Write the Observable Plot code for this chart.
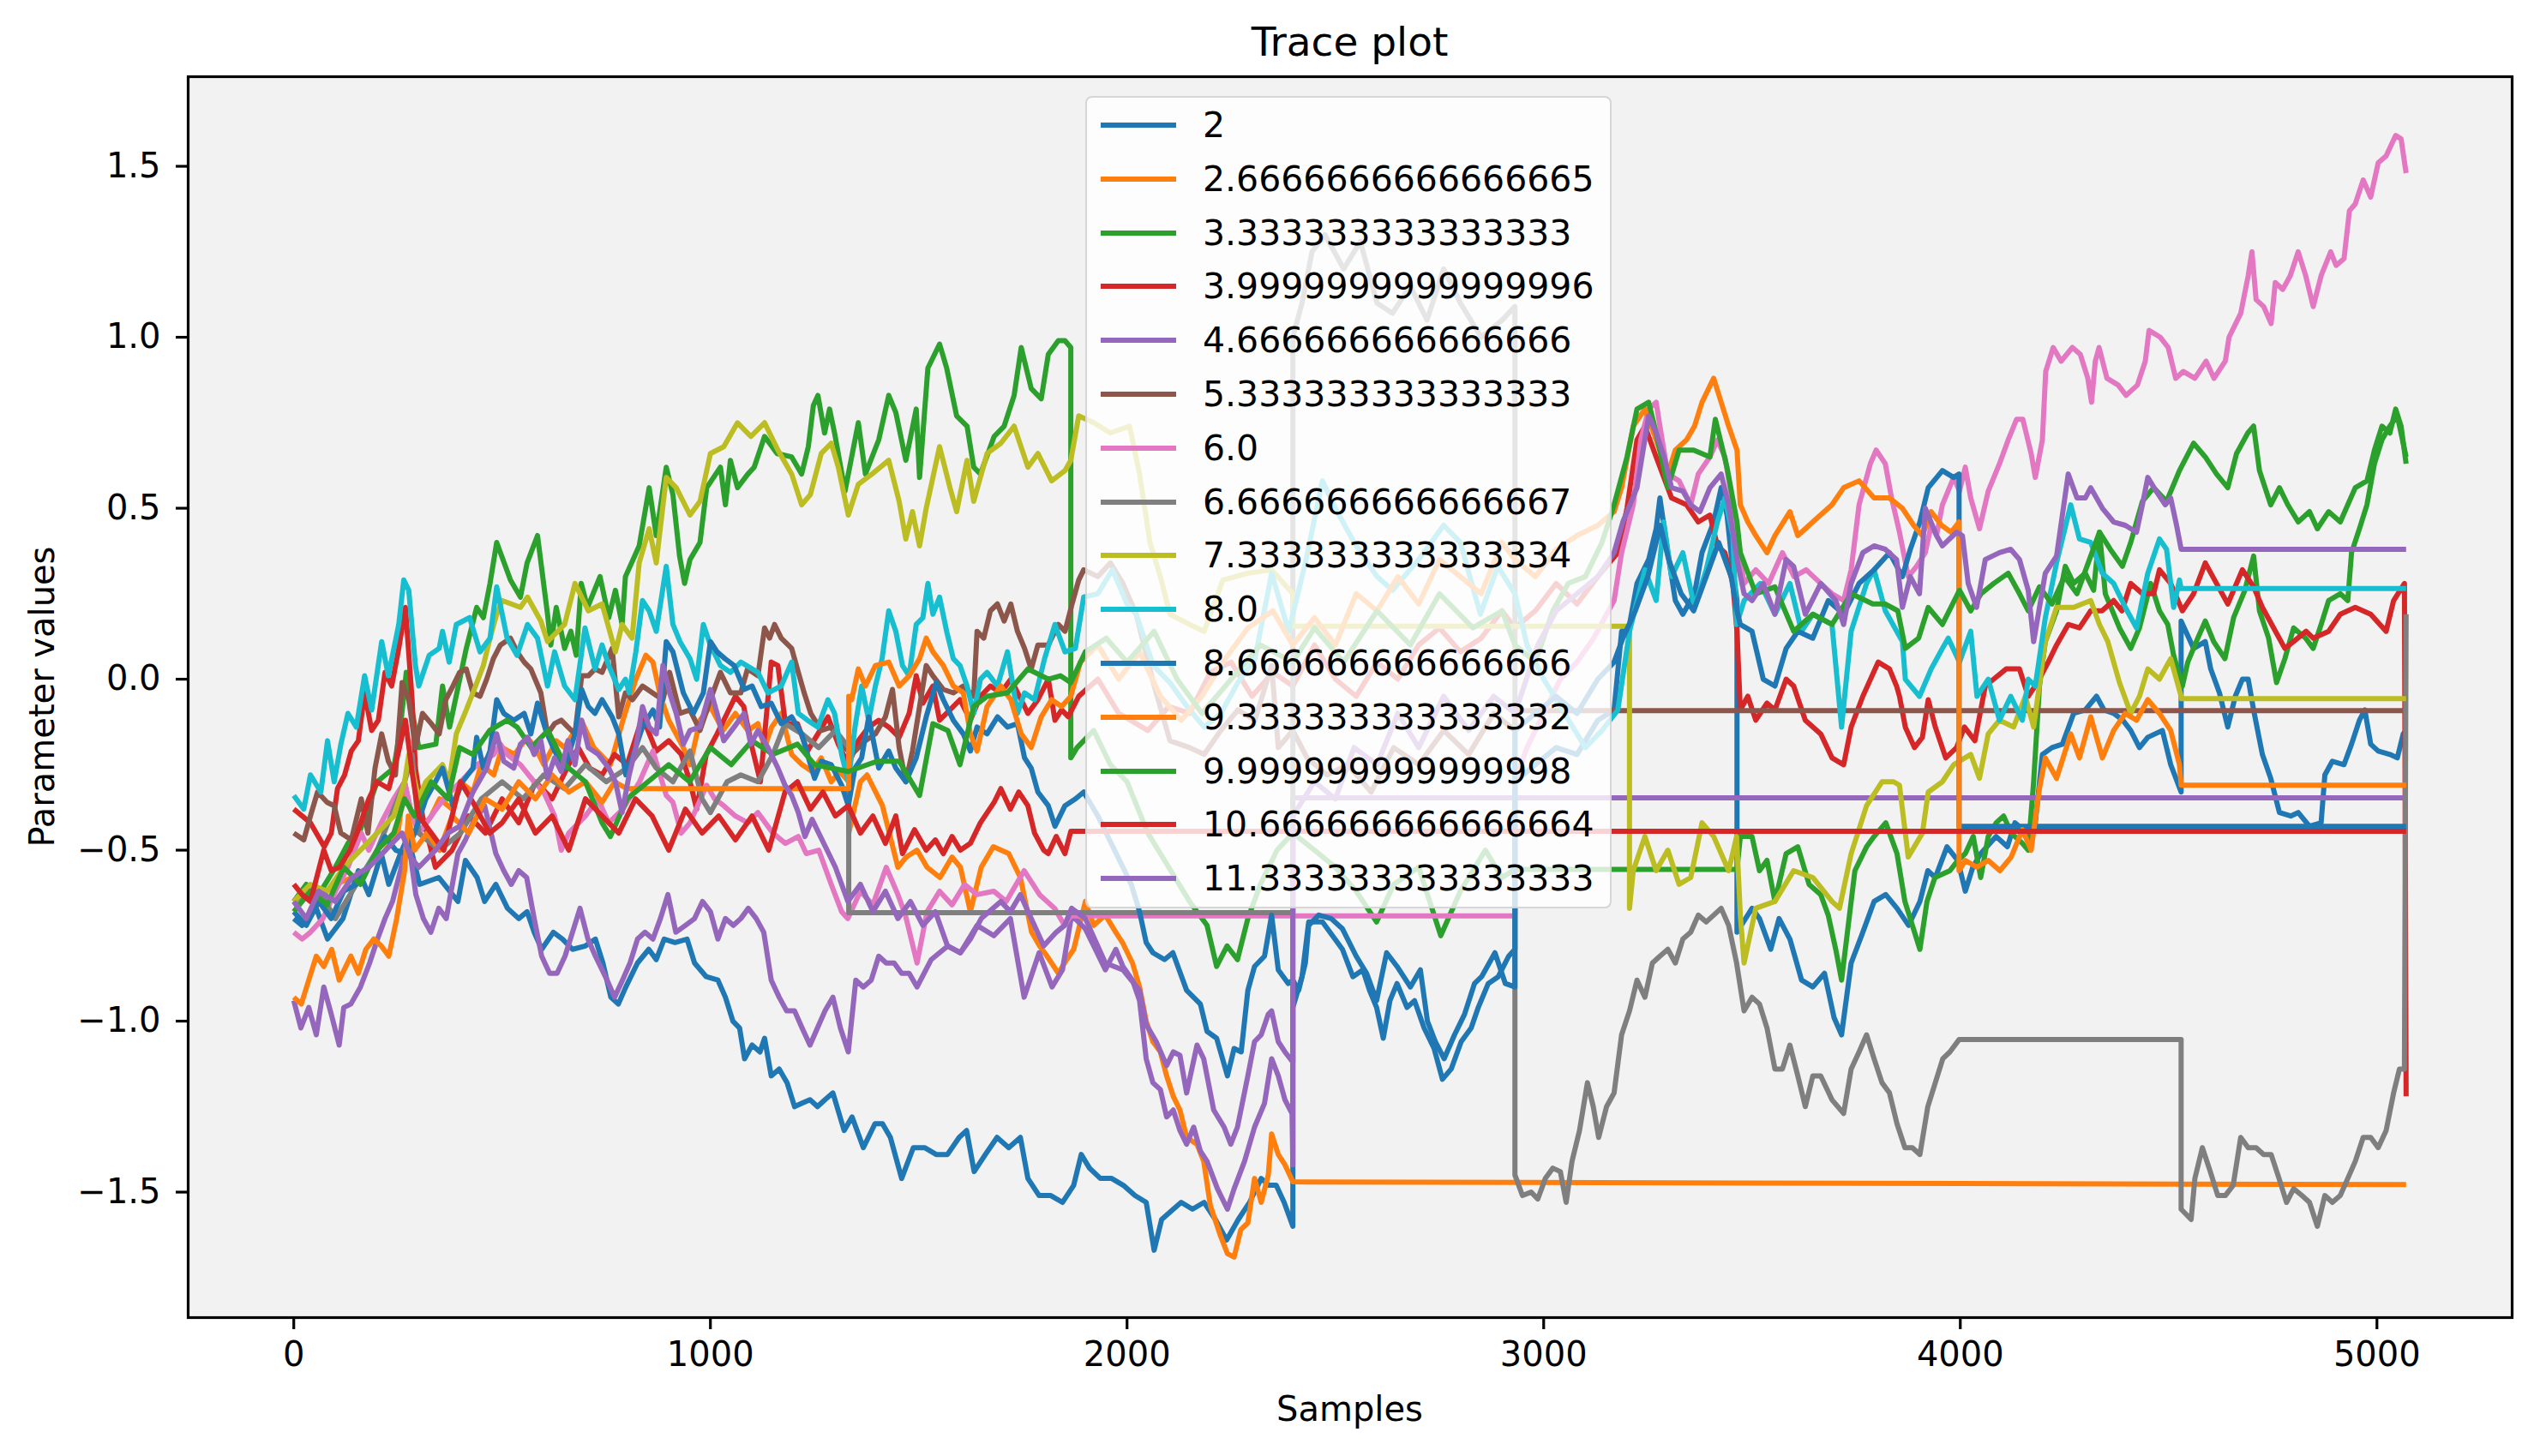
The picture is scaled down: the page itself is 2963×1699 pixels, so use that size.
<!DOCTYPE html>
<html><head><meta charset="utf-8">
<script src="https://cdn.jsdelivr.net/npm/d3@7"></script>
<script src="https://cdn.jsdelivr.net/npm/@observablehq/plot@0.6"></script>
<style>
html,body{margin:0;padding:0;background:#fff;}
#wrap{position:relative;width:2963px;height:1699px;font-family:"DejaVu Sans",sans-serif;color:#000;overflow:hidden;}
#title{position:relative;height:80px;}
#title span{position:absolute;left:219px;width:2711px;top:22px;line-height:54px;font-size:47px;text-align:center;}
#xlabel{position:absolute;left:219px;width:2711px;top:1620px;line-height:48px;font-size:40px;text-align:center;}
#ylabel{position:absolute;left:49px;top:813px;font-size:40px;line-height:48px;white-space:nowrap;transform:translate(-50%,-50%) rotate(-90deg);}
#legend{position:absolute;left:1266px;top:112px;width:614px;height:948px;background:rgba(255,255,255,0.8);border:2px solid rgba(204,204,204,0.8);border-radius:8px;box-sizing:border-box;}
#legend .row{position:absolute;left:0;width:600px;height:62px;line-height:62px;font-size:41px;white-space:nowrap;}
#legend .row svg{position:absolute;left:14px;top:0;}
#legend .row span{position:absolute;left:135px;top:0;}
</style>
</head><body>
<div id="wrap">
<div id="title"><span>Trace plot</span></div>
<div id="chart"></div>
<div id="xlabel">Samples</div>
<div id="ylabel">Parameter values</div>
<div id="legend"></div>
</div>
<script>
// ---- data: [sample, value] ----
const legendLabels = ["2","2.6666666666666665","3.333333333333333","3.9999999999999996","4.666666666666666","5.333333333333333","6.0","6.666666666666667","7.333333333333334","8.0","8.666666666666666","9.333333333333332","9.999999999999998","10.666666666666664","11.333333333333333"];
const xTicks = [0,1000,2000,3000,4000,5000];
const yTicks = [-1.5,-1.0,-0.5,0.0,0.5,1.0,1.5];

const chain01 = [[0,-0.70],[20,-0.72],[54,-0.67],[81,-0.76],[118,-0.70],[155,-0.56],[180,-0.63],[210,-0.51],[228,-0.6],[256,-0.51],[274,-0.46],[302,-0.6],[348,-0.58],[394,-0.65],[412,-0.53],[440,-0.58],[458,-0.65],[485,-0.6],[513,-0.67],[540,-0.70],[560,-0.68],[577,-0.74],[595,-0.79],[623,-0.74],[645,-0.76],[669,-0.79],[700,-0.78],[724,-0.76],[742,-0.83],[761,-0.93],[779,-0.95],[797,-0.9],[825,-0.83],[852,-0.79],[870,-0.82],[889,-0.76],[915,-0.77],[944,-0.76],[962,-0.83],[990,-0.87],[1018,-0.88],[1036,-0.93],[1054,-1.0],[1070,-1.02],[1082,-1.11],[1100,-1.07],[1119,-1.09],[1130,-1.05],[1146,-1.16],[1165,-1.14],[1184,-1.18],[1202,-1.25],[1220,-1.24],[1239,-1.23],[1257,-1.25],[1275,-1.23],[1294,-1.21],[1321,-1.32],[1340,-1.28],[1367,-1.37],[1395,-1.30],[1413,-1.30],[1432,-1.34],[1459,-1.46],[1487,-1.37],[1514,-1.37],[1542,-1.39],[1569,-1.39],[1597,-1.34],[1615,-1.32],[1633,-1.44],[1660,-1.39],[1688,-1.34],[1716,-1.37],[1744,-1.34],[1762,-1.46],[1789,-1.51],[1817,-1.51],[1845,-1.53],[1872,-1.48],[1890,-1.39],[1910,-1.43],[1936,-1.46],[1963,-1.46],[1991,-1.48],[2019,-1.51],[2046,-1.53],[2065,-1.67],[2083,-1.58],[2111,-1.55],[2130,-1.53],[2157,-1.55],[2185,-1.53],[2212,-1.58],[2239,-1.64],[2267,-1.58],[2294,-1.53],[2322,-1.46],[2340,-1.48],[2358,-1.48],[2377,-1.53],[2398,-1.6],[2398,-0.96],[2420,-0.87],[2436,-0.71],[2469,-0.71],[2493,-0.75],[2517,-0.79],[2542,-0.87],[2566,-0.85],[2582,-0.91],[2599,-0.96],[2615,-1.05],[2631,-0.94],[2648,-0.89],[2672,-0.96],[2690,-0.94],[2713,-1.02],[2737,-1.08],[2757,-1.17],[2778,-1.14],[2802,-1.06],[2826,-1.02],[2843,-0.96],[2867,-0.89],[2891,-0.87],[2916,-0.81],[2931,-0.79],[2931,-0.3],[2980,-0.25],[3030,-0.2],[3080,-0.22],[3130,-0.12],[3169,-0.09],[3187,0.14],[3206,0.16],[3224,0.28],[3252,0.35],[3270,0.44],[3279,0.53],[3298,0.37],[3316,0.23],[3334,0.19],[3362,0.25],[3380,0.37],[3408,0.46],[3426,0.56],[3440,0.48],[3454,0.32],[3464,0.23],[3464,-0.74],[3500,-0.67],[3518,-0.7],[3545,-0.79],[3565,-0.7],[3591,-0.76],[3619,-0.88],[3646,-0.9],[3674,-0.86],[3697,-0.99],[3715,-1.04],[3738,-0.83],[3766,-0.74],[3793,-0.65],[3821,-0.63],[3848,-0.67],[3876,-0.72],[3903,-0.65],[3922,-0.56],[3940,-0.58],[3968,-0.49],[3994,-0.53],[4012,-0.62],[4030,-0.55],[4049,-0.51],[4086,-0.46],[4113,-0.49],[4131,-0.42],[4160,-0.45],[4180,-0.42],[4197,-0.22],[4220,-0.2],[4245,-0.19],[4272,-0.1],[4300,-0.09],[4327,-0.05],[4345,-0.09],[4368,-0.1],[4390,-0.12],[4409,-0.15],[4430,-0.2],[4450,-0.17],[4485,-0.15],[4505,-0.25],[4530,-0.33],[4530,0.17],[4560,0.09],[4588,0.11],[4601,0.03],[4622,-0.04],[4642,-0.14],[4660,-0.05],[4677,0.0],[4691,0.0],[4704,-0.09],[4725,-0.22],[4745,-0.29],[4766,-0.39],[4793,-0.40],[4811,-0.39],[4838,-0.43],[4866,-0.42],[4875,-0.28],[4893,-0.24],[4921,-0.25],[4939,-0.19],[4958,-0.12],[4971,-0.09],[4985,-0.19],[5003,-0.21],[5031,-0.22],[5049,-0.23],[5063,-0.16],[5070,-0.15]];

const chain02 = [[0,-0.66],[30,-0.62],[60,-0.64],[100,-0.6],[140,-0.58],[180,-0.55],[220,-0.5],[250,-0.45],[266,-0.3],[280,-0.38],[300,-0.45],[330,-0.4],[350,-0.35],[380,-0.38],[400,-0.3],[430,-0.33],[450,-0.25],[480,-0.28],[500,-0.2],[530,-0.22],[560,-0.17],[580,-0.2],[600,-0.25],[630,-0.18],[650,-0.2],[690,-0.12],[720,-0.2],[760,-0.25],[790,-0.12],[821,0.0],[845,0.07],[862,0.05],[880,-0.05],[900,-0.12],[935,-0.2],[951,-0.25],[975,-0.12],[1000,-0.08],[1030,-0.15],[1060,-0.1],[1090,-0.15],[1114,-0.13],[1130,-0.2],[1147,-0.14],[1170,-0.1],[1195,-0.22],[1220,-0.25],[1244,-0.27],[1266,-0.23],[1290,-0.3],[1310,-0.27],[1332,-0.3],[1332,-0.45],[1360,-0.3],[1376,-0.28],[1413,-0.37],[1450,-0.55],[1470,-0.52],[1496,-0.5],[1520,-0.55],[1551,-0.58],[1580,-0.52],[1600,-0.55],[1624,-0.68],[1650,-0.55],[1679,-0.49],[1716,-0.51],[1744,-0.58],[1771,-0.74],[1790,-0.78],[1808,-0.81],[1835,-0.86],[1855,-0.82],[1872,-0.79],[1900,-0.65],[1920,-0.72],[1948,-0.69],[1973,-0.74],[1989,-0.77],[2013,-0.83],[2030,-0.9],[2046,-1.0],[2062,-1.06],[2080,-1.09],[2095,-1.16],[2111,-1.22],[2127,-1.26],[2143,-1.34],[2168,-1.36],[2184,-1.41],[2200,-1.54],[2225,-1.63],[2241,-1.68],[2257,-1.69],[2273,-1.61],[2290,-1.59],[2306,-1.46],[2322,-1.53],[2339,-1.45],[2347,-1.33],[2363,-1.39],[2379,-1.42],[2398,-1.47],[5070,-1.478]];

const chain03 = [[0,-0.65],[30,-0.6],[60,-0.63],[100,-0.55],[130,-0.48],[160,-0.44],[200,-0.3],[240,-0.26],[255,-0.15],[270,0.02],[285,-0.1],[300,-0.2],[341,-0.19],[357,-0.02],[374,-0.14],[414,0.09],[439,0.21],[455,0.18],[471,0.28],[487,0.40],[520,0.29],[544,0.24],[560,0.34],[585,0.42],[609,0.19],[617,0.1],[630,0.21],[650,0.09],[665,0.14],[678,0.07],[690,0.28],[705,0.21],[735,0.30],[756,0.18],[772,0.26],[788,0.16],[796,0.30],[829,0.39],[853,0.56],[870,0.42],[894,0.62],[910,0.54],[926,0.36],[938,0.28],[951,0.35],[975,0.40],[991,0.56],[1024,0.62],[1036,0.51],[1048,0.64],[1065,0.56],[1090,0.6],[1105,0.62],[1130,0.71],[1160,0.66],[1195,0.65],[1219,0.60],[1235,0.68],[1247,0.80],[1258,0.83],[1274,0.72],[1286,0.79],[1298,0.72],[1323,0.55],[1355,0.75],[1372,0.60],[1404,0.70],[1428,0.83],[1445,0.78],[1469,0.64],[1494,0.79],[1502,0.59],[1522,0.91],[1550,0.98],[1567,0.91],[1591,0.77],[1616,0.74],[1632,0.62],[1648,0.60],[1681,0.71],[1705,0.74],[1729,0.83],[1746,0.97],[1770,0.85],[1794,0.82],[1811,0.95],[1835,0.99],[1851,0.99],[1865,0.97],[1865,-0.23],[1880,-0.2],[1920,-0.15],[1960,-0.25],[2000,-0.3],[2050,-0.45],[2100,-0.55],[2150,-0.65],[2192,-0.72],[2215,-0.84],[2240,-0.78],[2265,-0.82],[2290,-0.7],[2320,-0.6],[2360,-0.5],[2398,-0.45],[2450,-0.5],[2500,-0.55],[2550,-0.62],[2599,-0.71],[2640,-0.6],[2700,-0.55],[2753,-0.75],[2800,-0.62],[2860,-0.5],[2900,-0.58],[2931,-0.556],[3464,-0.556],[3472,-0.46],[3500,-0.46],[3518,-0.56],[3536,-0.53],[3555,-0.65],[3582,-0.51],[3610,-0.49],[3637,-0.6],[3665,-0.63],[3683,-0.69],[3701,-0.79],[3715,-0.88],[3729,-0.74],[3747,-0.56],[3775,-0.49],[3793,-0.46],[3821,-0.42],[3848,-0.51],[3867,-0.65],[3885,-0.72],[3903,-0.79],[3920,-0.65],[3939,-0.58],[3975,-0.56],[3994,-0.53],[4012,-0.51],[4031,-0.46],[4049,-0.58],[4067,-0.46],[4086,-0.42],[4104,-0.4],[4122,-0.45],[4149,-0.48],[4163,-0.5],[4176,-0.3],[4190,-0.02],[4204,0.11],[4231,0.2],[4252,0.33],[4272,0.28],[4300,0.31],[4320,0.26],[4334,0.43],[4348,0.25],[4382,0.15],[4409,0.09],[4430,0.15],[4457,0.28],[4478,0.2],[4498,0.16],[4512,0.07],[4533,-0.02],[4546,0.05],[4570,0.12],[4588,0.17],[4608,0.11],[4635,0.06],[4656,0.18],[4683,0.26],[4704,0.36],[4718,0.2],[4740,0.12],[4759,-0.01],[4779,0.06],[4800,0.15],[4829,0.12],[4847,0.09],[4866,0.16],[4884,0.23],[4912,0.25],[4930,0.23],[4939,0.37],[4958,0.44],[4976,0.51],[4994,0.63],[5012,0.70],[5031,0.74],[5049,0.77],[5070,0.65]];

const chain04 = [[0,-0.38],[20,-0.4],[40,-0.42],[73,-0.49],[90,-0.45],[105,-0.32],[122,-0.28],[138,-0.21],[155,-0.18],[170,-0.04],[187,-0.15],[203,-0.12],[219,0.02],[235,-0.02],[252,0.09],[268,0.21],[284,-0.06],[292,-0.26],[309,-0.40],[340,-0.55],[380,-0.5],[420,-0.4],[460,-0.45],[500,-0.35],[540,-0.42],[580,-0.3],[620,-0.35],[660,-0.25],[683,-0.2],[710,-0.26],[740,-0.28],[770,-0.22],[800,-0.25],[837,-0.11],[870,-0.21],[900,-0.18],[930,-0.22],[951,-0.3],[967,-0.38],[990,-0.22],[1016,-0.16],[1040,-0.1],[1060,-0.05],[1080,-0.08],[1100,-0.2],[1120,-0.3],[1146,0.05],[1162,0.04],[1180,-0.13],[1209,-0.13],[1233,-0.21],[1258,-0.16],[1282,-0.11],[1307,-0.19],[1331,-0.25],[1355,-0.18],[1380,-0.14],[1404,-0.12],[1428,-0.14],[1453,-0.17],[1477,-0.1],[1494,0.01],[1510,-0.07],[1534,-0.02],[1550,-0.12],[1575,-0.09],[1599,-0.06],[1624,-0.12],[1648,-0.05],[1672,-0.02],[1697,-0.04],[1721,0.0],[1746,-0.06],[1762,-0.1],[1786,-0.06],[1811,0.0],[1827,-0.12],[1843,-0.09],[1859,-0.11],[1884,-0.05],[1930,0.0],[1980,-0.1],[2050,-0.15],[2100,-0.08],[2150,-0.1],[2200,0.02],[2250,0.05],[2300,-0.05],[2350,0.02],[2398,-0.02],[2450,0.1],[2500,0.0],[2550,-0.05],[2600,0.05],[2650,0.0],[2700,0.1],[2750,0.15],[2800,0.08],[2850,0.12],[2900,0.2],[2931,0.15],[2980,0.2],[3030,0.28],[3080,0.22],[3130,0.3],[3178,0.37],[3200,0.5],[3224,0.70],[3243,0.74],[3270,0.65],[3307,0.53],[3343,0.51],[3371,0.46],[3399,0.48],[3417,0.39],[3435,0.37],[3454,0.28],[3464,0.14],[3472,-0.09],[3490,-0.05],[3509,-0.12],[3536,-0.07],[3555,-0.09],[3582,0.0],[3600,-0.02],[3628,-0.12],[3665,-0.16],[3692,-0.23],[3720,-0.25],[3738,-0.14],[3766,-0.05],[3803,0.05],[3830,0.03],[3847,-0.02],[3854,-0.05],[3868,-0.14],[3890,-0.2],[3909,-0.17],[3923,-0.06],[3940,-0.14],[3965,-0.23],[3991,-0.2],[4010,-0.14],[4035,-0.18],[4060,-0.02],[4080,0.0],[4110,0.03],[4142,0.03],[4163,-0.05],[4185,-0.01],[4211,0.05],[4231,0.1],[4259,0.16],[4286,0.15],[4313,0.2],[4340,0.2],[4368,0.23],[4388,0.2],[4409,0.28],[4437,0.25],[4464,0.25],[4478,0.32],[4505,0.28],[4533,0.2],[4560,0.25],[4588,0.34],[4615,0.28],[4642,0.22],[4677,0.32],[4704,0.27],[4725,0.21],[4752,0.15],[4779,0.09],[4800,0.11],[4830,0.14],[4847,0.12],[4884,0.14],[4912,0.19],[4948,0.21],[4985,0.19],[5022,0.14],[5040,0.23],[5066,0.28],[5070,-1.22]];

const chain05 = [[0,-0.94],[17,-1.02],[36,-0.96],[54,-1.04],[72,-0.9],[90,-0.98],[109,-1.07],[120,-0.96],[137,-0.95],[160,-0.9],[182,-0.83],[201,-0.76],[219,-0.7],[237,-0.65],[256,-0.56],[274,-0.46],[293,-0.63],[311,-0.7],[329,-0.74],[348,-0.67],[366,-0.70],[394,-0.51],[412,-0.47],[430,-0.42],[458,-0.37],[485,-0.51],[504,-0.56],[522,-0.6],[540,-0.56],[559,-0.58],[577,-0.7],[595,-0.81],[614,-0.86],[632,-0.86],[651,-0.81],[669,-0.74],[687,-0.67],[706,-0.76],[724,-0.81],[752,-0.88],[770,-0.93],[789,-0.88],[807,-0.83],[825,-0.76],[843,-0.74],[862,-0.76],[880,-0.70],[898,-0.63],[917,-0.74],[940,-0.72],[962,-0.70],[981,-0.65],[1000,-0.68],[1018,-0.76],[1036,-0.70],[1055,-0.72],[1073,-0.70],[1091,-0.67],[1110,-0.7],[1128,-0.74],[1146,-0.88],[1165,-0.93],[1183,-0.97],[1202,-0.97],[1220,-1.02],[1239,-1.07],[1257,-1.02],[1275,-0.97],[1294,-0.93],[1312,-1.02],[1331,-1.09],[1349,-0.88],[1367,-0.9],[1386,-0.88],[1404,-0.81],[1422,-0.83],[1441,-0.83],[1459,-0.86],[1477,-0.86],[1496,-0.9],[1530,-0.82],[1570,-0.78],[1600,-0.8],[1640,-0.72],[1680,-0.75],[1720,-0.7],[1753,-0.93],[1789,-0.8],[1820,-0.9],[1845,-0.85],[1867,-0.69],[1900,-0.73],[1932,-0.81],[1948,-0.85],[1973,-0.79],[1990,-0.84],[2013,-0.88],[2030,-0.94],[2046,-1.11],[2062,-1.18],[2080,-1.2],[2095,-1.28],[2111,-1.26],[2127,-1.32],[2143,-1.36],[2160,-1.31],[2176,-1.38],[2192,-1.41],[2217,-1.49],[2241,-1.55],[2257,-1.49],[2282,-1.41],[2306,-1.31],[2330,-1.24],[2347,-1.11],[2363,-1.16],[2379,-1.23],[2396,-1.27],[2398,-1.42],[2398,-0.347],[5070,-0.347]];

const chain06 = [[0,-0.45],[24,-0.47],[40,-0.4],[57,-0.33],[80,-0.36],[97,-0.37],[113,-0.45],[138,-0.47],[162,-0.35],[178,-0.45],[195,-0.26],[211,-0.16],[227,-0.24],[244,-0.28],[260,-0.01],[276,-0.06],[292,-0.2],[309,-0.1],[330,-0.13],[349,-0.16],[365,-0.06],[382,-0.02],[398,0.02],[414,0.03],[430,-0.04],[447,-0.05],[463,0.0],[479,0.06],[496,0.1],[520,0.12],[536,0.08],[553,0.05],[569,0.03],[593,-0.04],[609,-0.16],[626,-0.13],[642,-0.12],[658,-0.14],[675,-0.16],[691,0.01],[707,0.01],[723,0.03],[740,0.02],[764,0.09],[780,-0.11],[796,-0.04],[813,-0.06],[837,-0.02],[861,-0.04],[886,-0.06],[902,0.02],[927,-0.1],[951,-0.09],[975,-0.15],[1000,-0.06],[1024,0.02],[1048,-0.04],[1073,-0.04],[1089,0.03],[1114,0.01],[1130,0.15],[1142,0.12],[1154,0.16],[1170,0.12],[1195,0.09],[1211,0.02],[1225,-0.04],[1241,-0.1],[1266,-0.15],[1290,-0.14],[1315,-0.19],[1339,-0.22],[1372,-0.18],[1396,-0.16],[1420,-0.11],[1437,-0.03],[1453,-0.2],[1469,-0.3],[1485,-0.21],[1502,-0.08],[1518,0.04],[1534,0.01],[1559,-0.03],[1583,-0.04],[1607,-0.02],[1632,-0.05],[1640,0.14],[1656,0.12],[1672,0.2],[1689,0.22],[1705,0.17],[1721,0.22],[1737,0.14],[1754,0.09],[1770,0.03],[1786,0.1],[1811,0.1],[1835,0.16],[1851,0.14],[1868,0.22],[1884,0.29],[1896,0.32],[1930,0.3],[1960,0.34],[1990,0.28],[2022,0.19],[2063,-0.01],[2103,-0.18],[2150,-0.2],[2185,-0.22],[2225,-0.15],[2266,-0.09],[2307,-0.12],[2347,0.04],[2363,-0.2],[2398,-0.15],[2432,-0.23],[2480,-0.28],[2530,-0.25],[2586,-0.33],[2640,-0.2],[2700,-0.25],[2760,-0.15],[2820,-0.22],[2880,-0.1],[2931,-0.15],[2931,-0.092],[5070,-0.092]];

const chain07 = [[0,-0.74],[20,-0.76],[40,-0.74],[70,-0.7],[100,-0.62],[130,-0.55],[162,-0.45],[180,-0.5],[210,-0.42],[240,-0.35],[266,-0.3],[280,-0.38],[300,-0.45],[330,-0.4],[360,-0.35],[400,-0.3],[440,-0.25],[480,-0.22],[496,-0.19],[512,-0.22],[544,-0.25],[577,-0.3],[600,-0.33],[626,-0.4],[642,-0.5],[660,-0.45],[700,-0.4],[730,-0.35],[756,-0.42],[790,-0.38],[830,-0.3],[862,-0.21],[894,-0.34],[910,-0.36],[930,-0.45],[951,-0.42],[991,-0.31],[1010,-0.35],[1032,-0.37],[1060,-0.4],[1090,-0.42],[1114,-0.39],[1150,-0.45],[1180,-0.48],[1211,-0.46],[1230,-0.51],[1260,-0.5],[1290,-0.6],[1315,-0.68],[1330,-0.7],[1360,-0.62],[1390,-0.66],[1422,-0.55],[1450,-0.63],[1468,-0.69],[1496,-0.83],[1520,-0.68],[1550,-0.62],[1580,-0.66],[1610,-0.6],[1640,-0.63],[1680,-0.62],[1710,-0.65],[1753,-0.56],[1790,-0.63],[1826,-0.67],[1850,-0.72],[1865,-0.692],[2931,-0.692],[2931,-0.3],[2960,-0.2],[3000,-0.1],[3040,0.0],[3080,0.05],[3120,0.12],[3169,0.23],[3187,0.37],[3215,0.51],[3233,0.70],[3252,0.79],[3270,0.81],[3279,0.74],[3298,0.60],[3325,0.58],[3353,0.51],[3371,0.6],[3399,0.65],[3417,0.70],[3435,0.65],[3454,0.51],[3464,0.42],[3481,0.28],[3509,0.32],[3540,0.28],[3573,0.37],[3601,0.30],[3630,0.32],[3665,0.28],[3692,0.25],[3720,0.23],[3738,0.32],[3757,0.51],[3784,0.63],[3798,0.67],[3820,0.63],[3835,0.53],[3854,0.43],[3875,0.3],[3895,0.33],[3916,0.37],[3930,0.45],[3943,0.42],[3957,0.51],[3984,0.59],[3998,0.55],[4012,0.62],[4025,0.53],[4046,0.44],[4067,0.55],[4094,0.63],[4115,0.70],[4135,0.76],[4150,0.76],[4170,0.66],[4180,0.59],[4197,0.7],[4205,0.9],[4223,0.97],[4242,0.93],[4269,0.97],[4288,0.95],[4306,0.88],[4315,0.81],[4324,0.93],[4333,0.97],[4352,0.88],[4379,0.86],[4398,0.83],[4425,0.86],[4444,0.93],[4453,1.02],[4480,1.0],[4499,0.97],[4517,0.88],[4535,0.9],[4563,0.88],[4590,0.93],[4609,0.88],[4636,0.93],[4645,1.0],[4673,1.07],[4691,1.18],[4700,1.25],[4710,1.11],[4728,1.09],[4746,1.04],[4756,1.16],[4774,1.14],[4792,1.18],[4811,1.25],[4829,1.18],[4847,1.09],[4866,1.18],[4889,1.25],[4902,1.21],[4921,1.23],[4934,1.37],[4948,1.39],[4967,1.46],[4985,1.41],[5003,1.51],[5022,1.53],[5045,1.59],[5058,1.58],[5070,1.48]];

const chain08 = [[0,-0.65],[50,-0.6],[100,-0.7],[150,-0.6],[200,-0.5],[266,-0.3],[284,-0.22],[300,-0.45],[350,-0.5],[400,-0.45],[450,-0.35],[500,-0.3],[550,-0.35],[600,-0.28],[650,-0.32],[700,-0.25],[750,-0.3],[800,-0.26],[837,-0.2],[870,-0.26],[910,-0.3],[951,-0.21],[980,-0.35],[1000,-0.39],[1040,-0.3],[1073,-0.28],[1114,-0.3],[1150,-0.22],[1179,-0.13],[1220,-0.16],[1260,-0.2],[1300,-0.15],[1332,-0.2],[1332,-0.683],[2398,-0.683],[2398,1.0],[2420,1.1],[2444,1.25],[2475,1.3],[2520,1.2],[2560,1.28],[2600,1.1],[2637,1.07],[2680,1.15],[2720,1.05],[2760,1.2],[2800,1.1],[2850,1.0],[2900,1.05],[2931,1.09],[2931,-1.45],[2949,-1.51],[2970,-1.5],[2986,-1.52],[3004,-1.46],[3022,-1.43],[3040,-1.44],[3054,-1.53],[3068,-1.41],[3086,-1.32],[3105,-1.18],[3119,-1.25],[3132,-1.34],[3151,-1.25],[3169,-1.21],[3187,-1.04],[3206,-0.97],[3224,-0.88],[3243,-0.93],[3261,-0.83],[3279,-0.81],[3298,-0.79],[3316,-0.83],[3334,-0.76],[3353,-0.74],[3371,-0.69],[3390,-0.71],[3408,-0.69],[3426,-0.67],[3444,-0.72],[3463,-0.83],[3481,-0.97],[3500,-0.93],[3518,-0.95],[3536,-1.02],[3555,-1.14],[3573,-1.14],[3591,-1.07],[3610,-1.16],[3628,-1.25],[3646,-1.16],[3665,-1.16],[3692,-1.23],[3720,-1.27],[3738,-1.14],[3757,-1.09],[3775,-1.04],[3793,-1.11],[3812,-1.18],[3830,-1.21],[3848,-1.3],[3867,-1.37],[3885,-1.37],[3903,-1.39],[3922,-1.25],[3940,-1.18],[3958,-1.11],[3975,-1.09],[3997,-1.054],[4530,-1.054],[4530,-1.55],[4554,-1.58],[4563,-1.46],[4581,-1.37],[4600,-1.44],[4618,-1.51],[4636,-1.51],[4655,-1.48],[4673,-1.34],[4691,-1.37],[4710,-1.37],[4728,-1.39],[4746,-1.39],[4765,-1.46],[4783,-1.53],[4800,-1.49],[4820,-1.51],[4838,-1.53],[4857,-1.6],[4875,-1.51],[4893,-1.53],[4912,-1.51],[4930,-1.46],[4948,-1.41],[4967,-1.34],[4985,-1.34],[5003,-1.37],[5022,-1.32],[5040,-1.21],[5054,-1.14],[5066,-1.14],[5070,0.19]];

const chain09 = [[0,-0.65],[40,-0.6],[80,-0.62],[120,-0.55],[160,-0.5],[200,-0.45],[240,-0.4],[266,-0.3],[276,-0.22],[300,-0.35],[317,-0.3],[357,-0.25],[373,-0.3],[390,-0.16],[414,-0.09],[430,-0.04],[455,0.04],[471,0.12],[487,0.19],[500,0.23],[544,0.21],[561,0.24],[593,0.17],[609,0.11],[650,0.16],[675,0.28],[707,0.2],[740,0.22],[772,0.08],[788,0.16],[812,0.12],[829,0.34],[853,0.44],[870,0.34],[894,0.59],[918,0.56],[951,0.48],[975,0.52],[1000,0.66],[1032,0.68],[1065,0.75],[1097,0.71],[1130,0.75],[1162,0.67],[1195,0.60],[1219,0.51],[1240,0.54],[1266,0.66],[1290,0.69],[1307,0.62],[1331,0.48],[1355,0.57],[1388,0.60],[1428,0.64],[1453,0.52],[1469,0.41],[1485,0.49],[1502,0.39],[1518,0.5],[1550,0.68],[1575,0.56],[1591,0.49],[1616,0.64],[1632,0.52],[1664,0.66],[1697,0.69],[1729,0.74],[1762,0.62],[1786,0.66],[1819,0.58],[1851,0.61],[1865,0.64],[1884,0.77],[1920,0.75],[1960,0.72],[2006,0.74],[2030,0.6],[2055,0.4],[2080,0.3],[2103,0.19],[2150,0.16],[2185,0.14],[2230,0.29],[2290,0.31],[2347,0.32],[2398,0.25],[2398,0.155],[3206,0.155],[3206,-0.67],[3215,-0.56],[3243,-0.46],[3270,-0.56],[3298,-0.5],[3325,-0.6],[3353,-0.58],[3380,-0.42],[3408,-0.46],[3444,-0.56],[3463,-0.46],[3472,-0.69],[3481,-0.83],[3509,-0.67],[3555,-0.65],[3600,-0.56],[3646,-0.58],[3692,-0.65],[3710,-0.67],[3738,-0.51],[3775,-0.37],[3812,-0.30],[3840,-0.3],[3854,-0.31],[3875,-0.52],[3909,-0.45],[3923,-0.33],[3957,-0.3],[3984,-0.25],[4025,-0.22],[4046,-0.29],[4067,-0.16],[4094,-0.12],[4128,-0.14],[4156,-0.05],[4176,-0.14],[4204,0.11],[4231,0.21],[4272,0.21],[4313,0.23],[4334,0.16],[4354,0.11],[4382,-0.01],[4409,-0.1],[4430,-0.05],[4450,0.03],[4478,0.0],[4505,0.06],[4530,-0.05],[4530,-0.057],[5070,-0.057]];

const chain10 = [[0,-0.34],[24,-0.38],[40,-0.28],[65,-0.33],[81,-0.18],[97,-0.3],[113,-0.19],[130,-0.1],[150,-0.14],[170,0.01],[187,-0.09],[211,0.11],[227,0.01],[252,0.16],[264,0.29],[276,0.26],[292,0.04],[300,-0.02],[325,0.07],[349,0.09],[357,0.14],[373,0.05],[390,0.16],[422,0.18],[447,0.08],[471,0.12],[487,0.27],[512,0.12],[536,0.07],[561,0.16],[585,0.12],[609,-0.02],[626,0.08],[650,-0.02],[675,-0.06],[699,0.15],[723,0.03],[740,0.1],[756,0.04],[780,-0.03],[796,0.0],[805,-0.04],[821,0.08],[837,0.23],[853,0.2],[870,0.14],[894,0.33],[910,0.16],[927,0.11],[951,0.06],[967,0.0],[983,0.16],[1000,0.1],[1024,0.04],[1048,0.02],[1073,0.05],[1114,0.02],[1138,-0.04],[1170,-0.02],[1195,0.05],[1211,-0.1],[1233,-0.12],[1258,-0.14],[1282,-0.06],[1298,-0.1],[1315,-0.22],[1331,-0.3],[1347,-0.14],[1363,-0.02],[1380,-0.12],[1396,-0.02],[1412,0.06],[1428,0.2],[1445,0.14],[1461,0.04],[1477,0.01],[1494,0.16],[1510,0.18],[1522,0.28],[1534,0.19],[1550,0.24],[1567,0.14],[1583,0.06],[1599,0.04],[1616,-0.02],[1632,-0.1],[1648,0.0],[1664,0.02],[1689,-0.02],[1713,0.08],[1737,-0.1],[1754,-0.04],[1778,-0.06],[1802,0.06],[1827,0.16],[1851,0.08],[1876,0.09],[1896,0.24],[1930,0.25],[1965,0.32],[2000,0.22],[2022,0.19],[2063,0.04],[2103,-0.01],[2144,-0.08],[2185,-0.14],[2225,-0.1],[2266,-0.01],[2307,0.06],[2347,0.31],[2388,0.14],[2428,0.34],[2469,0.58],[2500,0.5],[2545,0.4],[2600,0.3],[2637,0.26],[2700,0.35],[2760,0.45],[2800,0.4],[2848,0.19],[2890,0.33],[2931,0.25],[2960,0.1],[3000,0.0],[3050,-0.1],[3100,-0.2],[3140,-0.15],[3178,-0.09],[3206,0.14],[3243,0.32],[3270,0.23],[3288,0.46],[3307,0.3],[3334,0.37],[3362,0.21],[3390,0.32],[3417,0.46],[3435,0.53],[3454,0.42],[3463,0.16],[3481,0.23],[3520,0.28],[3555,0.19],[3591,0.28],[3619,0.14],[3646,0.19],[3692,0.16],[3715,-0.14],[3738,0.14],[3775,0.28],[3793,0.32],[3820,0.2],[3861,0.11],[3868,0.0],[3902,-0.05],[3930,0.03],[3957,0.09],[3971,0.12],[3998,0.05],[4025,0.14],[4040,-0.05],[4067,0.0],[4094,-0.12],[4121,-0.05],[4149,-0.12],[4163,0.0],[4180,-0.02],[4204,0.18],[4231,0.34],[4265,0.51],[4286,0.41],[4313,0.4],[4341,0.31],[4368,0.28],[4396,0.21],[4423,0.15],[4450,0.31],[4478,0.41],[4495,0.38],[4512,0.21],[4526,0.29],[4530,0.265],[5070,0.265]];

const chain11 = [[0,-0.68],[30,-0.72],[60,-0.65],[90,-0.7],[120,-0.62],[150,-0.6],[180,-0.55],[219,-0.46],[245,-0.5],[268,-0.51],[290,-0.45],[317,-0.35],[340,-0.3],[357,-0.26],[382,-0.37],[405,-0.3],[430,-0.26],[439,-0.17],[455,-0.26],[471,-0.21],[487,-0.06],[504,-0.1],[528,-0.12],[553,-0.1],[569,-0.16],[585,-0.07],[605,-0.15],[626,-0.21],[650,-0.26],[675,-0.16],[691,-0.03],[707,-0.08],[723,-0.1],[740,-0.06],[764,-0.11],[780,-0.16],[797,-0.28],[815,-0.22],[837,-0.14],[862,-0.09],[878,-0.14],[894,0.11],[910,0.08],[935,-0.04],[959,-0.1],[983,-0.04],[1000,0.11],[1016,0.08],[1035,0.06],[1057,0.04],[1081,-0.03],[1100,-0.02],[1122,-0.08],[1146,-0.07],[1170,-0.13],[1195,-0.11],[1219,-0.16],[1233,-0.22],[1250,-0.29],[1266,-0.24],[1290,-0.25],[1315,-0.31],[1331,-0.37],[1347,-0.26],[1363,-0.23],[1380,-0.11],[1404,-0.26],[1428,-0.21],[1445,-0.26],[1469,-0.30],[1494,-0.23],[1518,-0.11],[1542,-0.01],[1559,-0.06],[1583,-0.12],[1607,-0.16],[1624,-0.21],[1640,-0.14],[1664,-0.16],[1689,-0.11],[1713,-0.14],[1737,-0.13],[1754,-0.23],[1770,-0.26],[1786,-0.33],[1811,-0.37],[1827,-0.43],[1851,-0.37],[1876,-0.35],[1896,-0.33],[1930,-0.4],[1970,-0.5],[2010,-0.6],[2030,-0.68],[2046,-0.77],[2062,-0.8],[2090,-0.82],[2110,-0.8],[2143,-0.91],[2176,-0.95],[2192,-1.03],[2215,-1.05],[2241,-1.16],[2257,-1.08],[2274,-1.09],[2290,-0.91],[2306,-0.84],[2330,-0.81],[2347,-0.69],[2363,-0.85],[2387,-0.89],[2398,-0.88],[2412,-0.91],[2428,-0.83],[2436,-0.72],[2460,-0.69],[2490,-0.7],[2517,-0.73],[2550,-0.81],[2575,-0.86],[2599,-0.94],[2623,-0.8],[2648,-0.84],[2680,-0.9],[2704,-0.85],[2721,-1.0],[2740,-1.06],[2761,-1.11],[2786,-1.04],[2810,-0.98],[2834,-0.89],[2851,-0.87],[2883,-0.8],[2908,-0.89],[2931,-0.9],[2931,-0.15],[2980,-0.1],[3030,-0.05],[3080,-0.1],[3130,0.0],[3169,0.05],[3190,0.12],[3220,0.2],[3250,0.3],[3280,0.45],[3300,0.35],[3330,0.25],[3360,0.2],[3390,0.3],[3420,0.4],[3450,0.3],[3464,0.2],[3472,0.16],[3500,0.14],[3527,0.0],[3555,-0.02],[3582,0.09],[3610,0.14],[3646,0.12],[3683,0.23],[3720,0.19],[3757,0.28],[3793,0.32],[3830,0.37],[3861,0.3],[3880,0.38],[3903,0.46],[3923,0.56],[3957,0.61],[3984,0.59],[3997,0.6],[3997,-0.43],[5070,-0.43]];

const chain12 = [[0,-0.93],[18,-0.95],[36,-0.88],[54,-0.81],[72,-0.84],[91,-0.79],[109,-0.88],[137,-0.81],[155,-0.86],[173,-0.79],[192,-0.76],[210,-0.78],[228,-0.81],[247,-0.7],[266,-0.56],[275,-0.4],[290,-0.5],[320,-0.45],[350,-0.5],[380,-0.4],[420,-0.45],[460,-0.35],[500,-0.38],[540,-0.3],[580,-0.35],[620,-0.28],[660,-0.33],[700,-0.3],[740,-0.36],[770,-0.3],[799,-0.32],[1332,-0.32],[1332,-0.05],[1339,-0.06],[1355,0.03],[1372,-0.02],[1396,0.04],[1428,0.05],[1453,-0.02],[1477,0.01],[1502,0.06],[1518,0.12],[1534,0.08],[1559,0.04],[1583,-0.02],[1607,-0.04],[1624,-0.16],[1640,-0.21],[1664,-0.08],[1697,-0.02],[1721,-0.06],[1746,-0.16],[1770,-0.2],[1794,-0.11],[1819,-0.06],[1843,-0.08],[1865,-0.05],[1888,0.05],[1930,0.1],[1980,0.0],[2030,0.08],[2080,-0.05],[2130,-0.12],[2180,-0.05],[2230,0.05],[2290,0.15],[2350,0.2],[2398,0.1],[2450,0.18],[2500,0.1],[2550,0.25],[2600,0.2],[2650,0.3],[2700,0.22],[2750,0.35],[2800,0.3],[2850,0.25],[2900,0.4],[2931,0.35],[2980,0.3],[3030,0.38],[3080,0.42],[3130,0.45],[3169,0.49],[3187,0.56],[3215,0.74],[3243,0.79],[3270,0.7],[3298,0.60],[3316,0.67],[3343,0.70],[3362,0.74],[3380,0.81],[3408,0.88],[3426,0.81],[3444,0.74],[3464,0.67],[3472,0.51],[3490,0.46],[3509,0.42],[3536,0.37],[3555,0.42],[3591,0.49],[3610,0.42],[3646,0.46],[3692,0.51],[3720,0.56],[3757,0.58],[3793,0.53],[3830,0.53],[3861,0.5],[3888,0.45],[3909,0.42],[3930,0.49],[3955,0.45],[3978,0.43],[3997,0.46],[3997,-0.56],[4012,-0.53],[4040,-0.55],[4067,-0.53],[4095,-0.56],[4122,-0.52],[4149,-0.44],[4170,-0.5],[4190,-0.32],[4204,-0.23],[4231,-0.29],[4265,-0.16],[4286,-0.23],[4313,-0.11],[4341,-0.23],[4368,-0.15],[4396,-0.1],[4423,-0.12],[4450,-0.06],[4478,-0.1],[4505,-0.15],[4526,-0.25],[4530,-0.31],[5070,-0.31]];

const chain13 = [[0,-0.68],[40,-0.62],[80,-0.66],[120,-0.55],[160,-0.6],[200,-0.5],[240,-0.45],[266,-0.35],[290,-0.4],[330,-0.3],[370,-0.35],[398,-0.2],[430,-0.22],[470,-0.15],[512,-0.12],[536,-0.14],[570,-0.2],[610,-0.15],[650,-0.25],[700,-0.3],[740,-0.42],[760,-0.46],[800,-0.35],[850,-0.3],[900,-0.25],[950,-0.3],[1000,-0.2],[1050,-0.25],[1100,-0.18],[1150,-0.22],[1209,-0.19],[1250,-0.25],[1331,-0.27],[1400,-0.24],[1453,-0.24],[1502,-0.34],[1534,-0.13],[1570,-0.15],[1599,-0.25],[1632,-0.08],[1664,-0.05],[1713,-0.04],[1762,0.03],[1811,0.0],[1840,0.01],[1865,-0.01],[1900,0.08],[1950,0.12],[2000,0.05],[2065,0.14],[2120,0.0],[2180,-0.1],[2250,0.0],[2320,0.1],[2398,0.05],[2450,0.15],[2520,0.05],[2600,0.2],[2680,0.1],[2750,0.25],[2830,0.15],[2900,0.2],[2931,0.1],[2980,0.05],[3022,0.2],[3059,0.28],[3100,0.3],[3140,0.4],[3169,0.51],[3200,0.65],[3224,0.79],[3252,0.81],[3270,0.72],[3298,0.56],[3325,0.67],[3360,0.67],[3399,0.65],[3412,0.76],[3440,0.62],[3464,0.46],[3472,0.37],[3509,0.25],[3555,0.27],[3600,0.14],[3646,0.19],[3692,0.16],[3738,0.25],[3790,0.22],[3820,0.22],[3850,0.2],[3868,0.09],[3900,0.12],[3923,0.21],[3957,0.16],[3998,0.26],[4025,0.2],[4050,0.25],[4080,0.28],[4115,0.31],[4142,0.25],[4163,0.2],[4190,0.27],[4220,0.22],[4250,0.3],[4280,0.25],[4310,0.35],[4334,0.43],[4360,0.38],[4389,0.33],[4409,0.4],[4437,0.52],[4464,0.56],[4495,0.52],[4526,0.61],[4560,0.69],[4588,0.65],[4615,0.6],[4642,0.56],[4663,0.66],[4690,0.72],[4704,0.74],[4718,0.61],[4745,0.51],[4766,0.56],[4786,0.51],[4811,0.46],[4838,0.49],[4857,0.44],[4884,0.49],[4912,0.46],[4930,0.51],[4948,0.56],[4976,0.58],[4994,0.67],[5012,0.74],[5031,0.72],[5045,0.79],[5058,0.74],[5070,0.63]];

const chain14 = [[0,-0.6],[20,-0.63],[40,-0.65],[72,-0.5],[90,-0.56],[110,-0.55],[135,-0.5],[155,-0.44],[180,-0.35],[200,-0.3],[228,-0.32],[250,-0.22],[268,-0.12],[285,-0.28],[300,-0.4],[330,-0.45],[360,-0.5],[400,-0.3],[430,-0.36],[470,-0.45],[500,-0.42],[540,-0.35],[580,-0.45],[620,-0.4],[660,-0.5],[700,-0.35],[740,-0.4],[780,-0.45],[820,-0.35],[860,-0.4],[900,-0.5],[940,-0.38],[980,-0.45],[1020,-0.4],[1060,-0.47],[1100,-0.4],[1140,-0.5],[1179,-0.33],[1209,-0.3],[1240,-0.38],[1270,-0.33],[1300,-0.4],[1331,-0.37],[1360,-0.45],[1390,-0.4],[1420,-0.48],[1445,-0.4],[1461,-0.51],[1490,-0.44],[1518,-0.5],[1540,-0.47],[1559,-0.51],[1580,-0.46],[1600,-0.5],[1624,-0.48],[1648,-0.42],[1681,-0.36],[1697,-0.32],[1720,-0.38],[1740,-0.33],[1762,-0.37],[1778,-0.45],[1800,-0.5],[1811,-0.51],[1830,-0.46],[1851,-0.51],[1865,-0.445],[5070,-0.445]];

const chain15 = [[0,-0.65],[30,-0.7],[60,-0.62],[100,-0.65],[140,-0.58],[180,-0.55],[220,-0.5],[260,-0.45],[280,-0.52],[300,-0.55],[340,-0.5],[370,-0.45],[398,-0.43],[430,-0.33],[463,-0.26],[487,-0.16],[504,-0.24],[528,-0.26],[544,-0.19],[561,-0.17],[577,-0.22],[593,-0.18],[609,-0.29],[626,-0.23],[642,-0.27],[658,-0.18],[675,-0.25],[691,-0.12],[707,-0.2],[731,-0.22],[756,-0.26],[772,-0.3],[788,-0.39],[805,-0.28],[821,-0.2],[837,-0.08],[853,-0.14],[870,-0.16],[886,0.04],[902,-0.04],[918,-0.1],[935,-0.19],[951,-0.15],[975,-0.14],[1000,-0.03],[1016,-0.1],[1032,-0.18],[1057,-0.14],[1081,-0.1],[1097,-0.19],[1114,-0.15],[1138,-0.2],[1162,-0.26],[1179,-0.31],[1195,-0.34],[1211,-0.39],[1227,-0.46],[1244,-0.41],[1260,-0.45],[1280,-0.5],[1300,-0.55],[1330,-0.65],[1360,-0.6],[1390,-0.68],[1420,-0.62],[1450,-0.7],[1480,-0.65],[1510,-0.72],[1540,-0.68],[1569,-0.78],[1600,-0.8],[1624,-0.76],[1650,-0.7],[1697,-0.65],[1720,-0.68],[1744,-0.63],[1770,-0.7],[1800,-0.78],[1830,-0.74],[1850,-0.72],[1867,-0.67],[1900,-0.7],[1948,-0.83],[1990,-0.85],[2030,-0.91],[2046,-1.01],[2070,-1.06],[2095,-1.13],[2111,-1.09],[2127,-1.1],[2143,-1.21],[2168,-1.07],[2184,-1.11],[2208,-1.26],[2233,-1.31],[2249,-1.36],[2265,-1.31],[2290,-1.16],[2306,-1.06],[2322,-1.04],[2339,-0.98],[2347,-0.97],[2363,-1.06],[2379,-1.09],[2398,-1.12],[2398,-0.4],[2450,-0.3],[2500,-0.35],[2545,-0.2],[2600,-0.25],[2650,-0.1],[2700,-0.2],[2760,-0.05],[2820,-0.15],[2880,-0.05],[2931,-0.1],[2986,0.1],[3030,0.2],[3080,0.25],[3130,0.3],[3169,0.37],[3190,0.46],[3224,0.56],[3252,0.77],[3270,0.72],[3289,0.65],[3307,0.56],[3334,0.55],[3353,0.51],[3375,0.49],[3399,0.56],[3426,0.60],[3444,0.51],[3464,0.35],[3481,0.25],[3500,0.23],[3527,0.28],[3555,0.19],[3582,0.35],[3600,0.33],[3628,0.19],[3665,0.28],[3701,0.23],[3720,0.16],[3738,0.28],[3766,0.37],[3793,0.39],[3820,0.38],[3847,0.35],[3861,0.21],[3880,0.3],[3902,0.25],[3916,0.5],[3943,0.42],[3957,0.39],[3991,0.43],[4005,0.42],[4019,0.28],[4039,0.21],[4060,0.35],[4094,0.37],[4121,0.38],[4142,0.35],[4163,0.26],[4176,0.11],[4204,0.31],[4231,0.36],[4259,0.6],[4280,0.53],[4300,0.53],[4313,0.56],[4341,0.5],[4368,0.46],[4396,0.45],[4423,0.43],[4437,0.51],[4450,0.59],[4470,0.55],[4492,0.51],[4505,0.53],[4519,0.45],[4530,0.38],[5070,0.38]];

const chains = [chain01,chain02,chain03,chain04,chain05,chain06,chain07,chain08,chain09,chain10,chain11,chain12,chain13,chain14,chain15];
const chainColors = ["#1f77b4","#ff7f0e","#2ca02c","#d62728","#9467bd","#8c564b","#e377c2","#7f7f7f","#bcbd22","#17becf","#1f77b4","#ff7f0e","#2ca02c","#d62728","#9467bd"];

// ---- chart ----
const lineMarks = chains.map((c, i) => Plot.line(c, {
  x: d => d[0], y: d => d[1], stroke: chainColors[i], strokeWidth: 6,
  strokeLinejoin: "round", strokeLinecap: "butt"
}));

const chart = Plot.plot({
  width: 2963, height: 1619,
  marginLeft: 219, marginRight: 33, marginTop: 9, marginBottom: 162,
  x: {domain: [-253.5, 5324.5]},
  y: {domain: [-1.867, 1.762]},
  style: {fontSize: "40px", fontFamily: "DejaVu Sans, sans-serif", color: "#000", background: "transparent", overflow: "visible"},
  marks: [
    Plot.frame({fill: "#f2f2f2", stroke: "none"}),
    ...lineMarks,
    Plot.frame({stroke: "#000", strokeWidth: 3.2}),
    Plot.axisX({ticks: xTicks, tickSize: 14, tickPadding: 14, tickFormat: d3.format("d"), label: null, strokeWidth: 3.2}),
    Plot.axisY({ticks: yTicks, tickSize: 14, tickPadding: 18, tickFormat: d3.format(".1f"), label: null, strokeWidth: 3.2})
  ]
});
document.getElementById("chart").appendChild(chart);

// ---- legend ----
const legend = document.getElementById("legend");
legendLabels.forEach((lab, i) => {
  const row = document.createElement("div");
  row.className = "row";
  row.style.top = (146 + i * 62.8 - 112 - 2 - 31) + "px";
  row.innerHTML = `<svg width="92" height="62"><line x1="2" x2="90" y1="31" y2="31" stroke="${chainColors[i]}" stroke-width="6"/></svg><span>${lab}</span>`;
  legend.appendChild(row);
});
</script>
</body></html>
